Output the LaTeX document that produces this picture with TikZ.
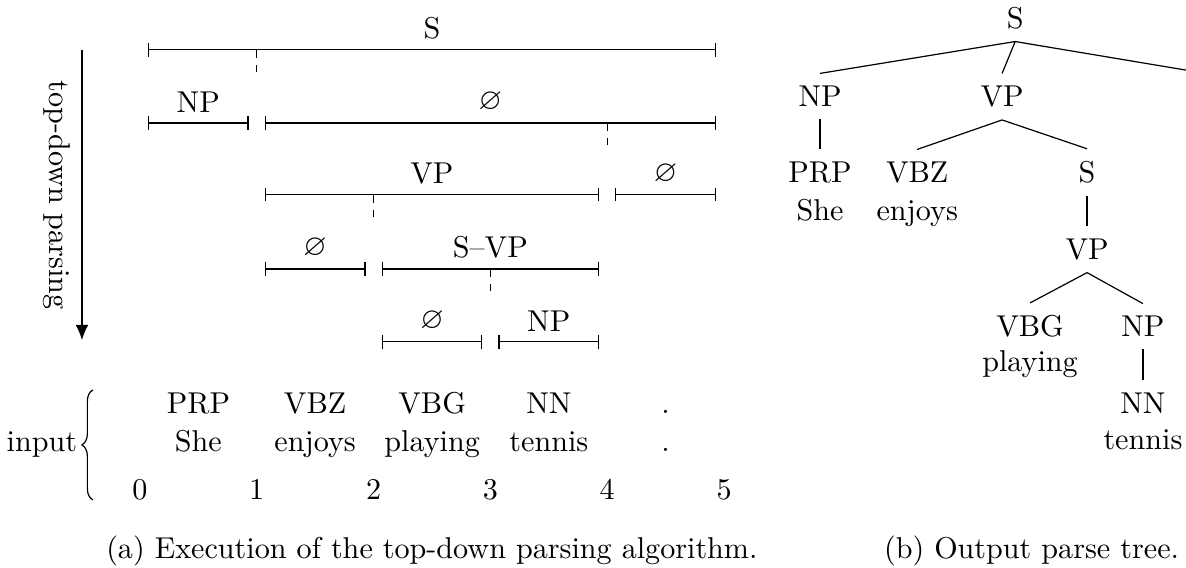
\documentclass[tikz,border=0pt]{standalone}
\usepackage{amssymb}
\usetikzlibrary{arrows.meta,decorations.pathreplacing}

\begin{document}
\begin{tikzpicture}[scale=0.982,>={Latex[length=5bp,width=4.2bp]},line join=bevel,
  spanline/.style={arrows={Bar[width=4.4bp]-Bar[width=4.4bp]}},
  splitline/.style={dash pattern=on 2.6bp off 2.4bp},
  spanlabel/.style={above},
  treenode/.style={anchor=base,inner sep=4pt},
  word/.style={anchor=base,inner sep=0pt},]
%%
\useasboundingbox (0bp,0bp) rectangle (399.3bp,190.9bp);
%
\coordinate (arrow_top) at (27.6bp,174.1bp);
  \coordinate (arrow_end) at (27.6bp,76.4bp);
  \draw [black,->] (arrow_top) -- (arrow_end);
  \node (node_dir) at (16.8bp,125.2bp) [rotate=-90,anchor=base] {top-down parsing};
%
\draw [spanline] (49.8bp,174.1bp) -- node [spanlabel] (span_s) {S} (241.1bp,174.1bp);
  \draw [splitline] (86.4bp,174.1bp) -- (86.4bp,166.7bp);
\draw [spanline] (49.8bp,149.5bp) -- node [spanlabel] (span_np) {NP} (83.7bp,149.5bp);
  \draw [spanline] (89.1bp,149.5bp) -- node [spanlabel] (span_e1) {$\varnothing$} (241.1bp,149.5bp);
  \draw [splitline] (204.4bp,149.5bp) -- (204.4bp,142.1bp);
\draw [spanline] (89.1bp,125.3bp) -- node [spanlabel] (span_vp) {VP} (201.7bp,125.3bp);
  \draw [spanline] (207.1bp,125.3bp) -- node [spanlabel] (span_e2) {$\varnothing$} (241.1bp,125.3bp);
  \draw [splitline] (125.8bp,125.3bp) -- (125.8bp,117.9bp);
\draw [spanline] (89.1bp,100.3bp) -- node [spanlabel] (span_e3) {$\varnothing$} (123.1bp,100.3bp);
  \draw [spanline] (128.5bp,100.3bp) -- node [spanlabel] (span_svp) {S--VP} (201.7bp,100.3bp);
  \draw [splitline] (165.1bp,100.3bp) -- (165.1bp,92.9bp);
\draw [spanline] (128.5bp,75.8bp) -- node [spanlabel] (span_e4) {$\varnothing$} (162.4bp,75.8bp);
  \draw [spanline] (167.8bp,75.8bp) -- node [spanlabel] (span_np2) {NP} (201.7bp,75.8bp);
%
\node (node_input) at (14.1bp,38.8bp) [word] {input};
  \coordinate (brace_lo) at (31.3bp,22.6bp);
  \coordinate (brace_hi) at (31.3bp,59.6bp);
  \draw [decorate,decoration={brace,amplitude=3.7bp}] (brace_lo) -- (brace_hi);
\node (tag_0) at (66.8bp,51.8bp) [word] {PRP};
  \node (tag_1) at (106.1bp,51.8bp) [word] {VBZ};
  \node (tag_2) at (145.5bp,51.8bp) [word] {VBG};
  \node (tag_3) at (184.8bp,51.8bp) [word] {NN};
  \node (tag_4) at (224.1bp,51.8bp) [word] {.};
\node (word_0) at (66.8bp,38.8bp) [word] {She};
  \node (word_1) at (106.1bp,38.8bp) [word] {enjoys};
  \node (word_2) at (145.5bp,38.8bp) [word] {playing};
  \node (word_3) at (184.8bp,38.8bp) [word] {tennis};
  \node (word_4) at (224.1bp,38.8bp) [word] {.};
\node (pos_0) at (47.1bp,22.8bp) [word] {0};
  \node (pos_1) at (86.4bp,22.8bp) [word] {1};
  \node (pos_2) at (125.8bp,22.8bp) [word] {2};
  \node (pos_3) at (165.1bp,22.8bp) [word] {3};
  \node (pos_4) at (204.4bp,22.8bp) [word] {4};
  \node (pos_5) at (243.8bp,22.8bp) [word] {5};
%
\node (tree_s) at (341.8bp,181.4bp) [treenode] {S};
  \node (tree_np) at (276.1bp,155.0bp) [treenode] {NP};
  \node (tree_vp) at (337.4bp,155.0bp) [treenode] {VP};
  \coordinate (tree_dot) at (407.1bp,166.0bp);
  \node (tree_prp) at (276.1bp,129.4bp) [treenode] {PRP};
  \node (tree_she) at (276.1bp,116.8bp) [word] {She};
  \node (tree_vbz) at (308.8bp,129.4bp) [treenode] {VBZ};
  \node (tree_enjoys) at (308.8bp,116.8bp) [word] {enjoys};
  \node (tree_s2) at (366.0bp,129.4bp) [treenode] {S};
  \node (tree_vp2) at (366.0bp,103.6bp) [treenode] {VP};
  \node (tree_vbg) at (346.8bp,77.5bp) [treenode] {VBG};
  \node (tree_playing) at (346.8bp,65.8bp) [word] {playing};
  \node (tree_np2) at (384.8bp,77.5bp) [treenode] {NP};
  \node (tree_nn) at (384.8bp,51.8bp) [treenode] {NN};
  \node (tree_tennis) at (384.8bp,39.4bp) [word] {tennis};
\draw (tree_s.south) -- (tree_np.north);
  \draw (tree_s.south) -- (tree_vp.north);
  \draw (tree_s.south) -- (tree_dot);
  \draw (tree_np.south) -- (tree_prp.north);
  \draw (tree_vp.south) -- (tree_vbz.north);
  \draw (tree_vp.south) -- (tree_s2.north);
  \draw (tree_s2.south) -- (tree_vp2.north);
  \draw (tree_vp2.south) -- (tree_vbg.north);
  \draw (tree_vp2.south) -- (tree_np2.north);
  \draw (tree_np2.south) -- (tree_nn.north);
%
\node (cap_a) at (145.4bp,3.0bp) [word] {(a) Execution of the top-down parsing algorithm.};
  \node (cap_b) at (347.3bp,3.0bp) [word] {(b) Output parse tree.};
%
\end{tikzpicture}
\end{document}
